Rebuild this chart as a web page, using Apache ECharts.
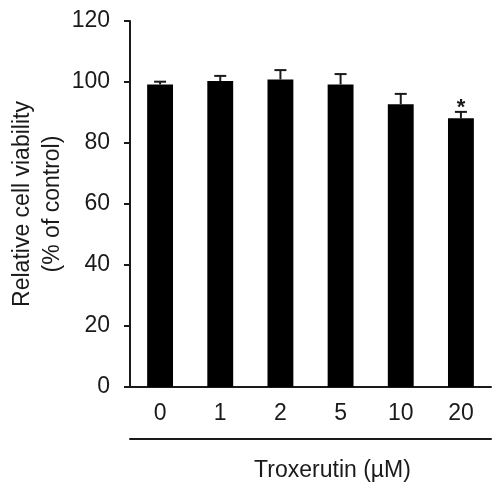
<!DOCTYPE html>
<html>
<head>
<meta charset="utf-8">
<script src="https://cdn.jsdelivr.net/npm/echarts@6/dist/echarts.min.js"></script>
<style>
  html, body { margin: 0; padding: 0; background: #fff; }
  #chart { width: 493px; height: 482px; }
</style>
</head>
<body>
<div id="chart"></div>
<script>
// Troxerutin dose (µM) vs relative cell viability
var doses = ["0", "1", "2", "5", "10", "20"];
var viability = [99.2, 100.3, 100.8, 99.2, 92.7, 88.1];
var errors = [0.9, 1.7, 3.1, 3.4, 3.4, 2.1];
var stars = ["", "", "", "", "", "*"];
var yTicks = { min: 0, max: 120, step: 20 };

var ink = "#1a1a1a";
var font = "'Liberation Sans', Arial, sans-serif";

var errData = viability.map(function (v, i) {
  return [i, v, errors[i]];
});

var chart = echarts.init(document.getElementById("chart"));
chart.setOption({
  animation: false,
  grid: { left: 130, right: 2, top: 21, bottom: 95, outerBoundsMode: "none", containLabel: false },
  xAxis: [
    {
      type: "category",
      data: doses,
      axisLine: { lineStyle: { color: ink, width: 2 } },
      axisTick: { length: 6, lineStyle: { color: ink, width: 2 } },
      axisLabel: { color: ink, fontSize: 23, fontFamily: font, margin: 15 }
    },
    {
      // the long rule under the dose labels
      type: "category",
      data: doses,
      position: "bottom",
      offset: 52,
      axisLine: { lineStyle: { color: ink, width: 2 } },
      axisTick: { show: false },
      axisLabel: { show: false },
      name: "Troxerutin (µM)",
      nameLocation: "middle",
      nameGap: 20,
      nameTextStyle: { color: ink, fontSize: 23, fontFamily: font, padding: [0, 0, 0, 44] }
    }
  ],
  yAxis: {
    type: "value",
    min: yTicks.min,
    max: yTicks.max,
    interval: yTicks.step,
    splitLine: { show: false },
    axisLine: { show: true, lineStyle: { color: ink, width: 2 } },
    axisTick: { show: true, length: 6, lineStyle: { color: ink, width: 2 } },
    axisLabel: { color: ink, fontSize: 23, fontFamily: font, margin: 20 },
    name: "Relative cell viability\n(% of control)",
    nameLocation: "middle",
    nameMoveOverlap: false,
    nameGap: 62,
    nameTextStyle: { color: ink, fontSize: 23, fontFamily: font, lineHeight: 30, align: "center" }
  },
  series: [
    {
      type: "bar",
      data: viability,
      barWidth: "43%",
      itemStyle: { color: "#000" }
    },
    {
      type: "custom",
      data: errData,
      z: 3,
      renderItem: function (params, api) {
        var i = api.value(0);
        var base = api.coord([i, api.value(1)]);
        var top = api.coord([i, api.value(1) + api.value(2)]);
        var half = 6;
        var kids = [
          { type: "line", shape: { x1: base[0], y1: base[1], x2: top[0], y2: top[1] },
            style: { stroke: ink, lineWidth: 2 } },
          { type: "line", shape: { x1: top[0] - half, y1: top[1], x2: top[0] + half, y2: top[1] },
            style: { stroke: ink, lineWidth: 2 } }
        ];
        if (stars[i]) {
          kids.push({ type: "text", x: top[0], y: top[1] + 7,
            style: { text: stars[i], fill: ink, font: "bold 22px " + font, align: "center", verticalAlign: "bottom" } });
        }
        return { type: "group", children: kids };
      }
    }
  ]
});
</script>
</body>
</html>
